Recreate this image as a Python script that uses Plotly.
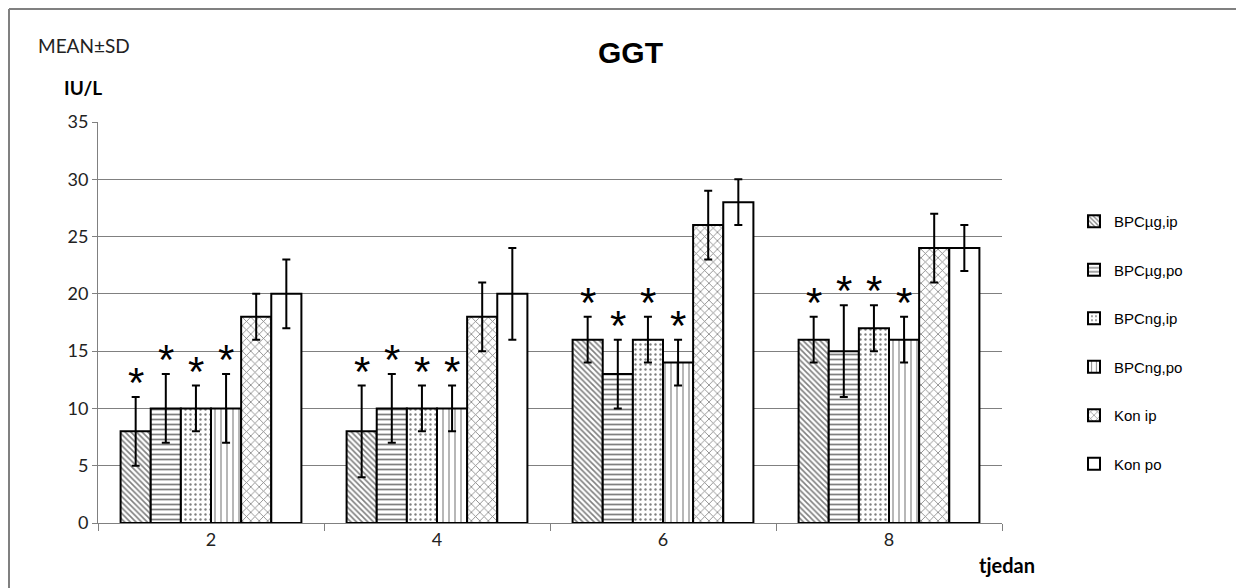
import plotly.graph_objects as go

weeks = [2, 4, 6, 8]
series_names = ["BPCµg,ip", "BPCµg,po", "BPCng,ip", "BPCng,po", "Kon ip", "Kon po"]
means = [
    [8, 8, 16, 16],
    [10, 10, 13, 15],
    [10, 10, 16, 17],
    [10, 10, 14, 16],
    [18, 18, 26, 24],
    [20, 20, 28, 24],
]
sds = [
    [3, 4, 2, 2],
    [3, 3, 3, 4],
    [2, 2, 2, 2],
    [3, 2, 2, 2],
    [2, 3, 3, 3],
    [3, 4, 2, 2],
]
significant = [True, True, True, True, False, False]
y_ticks = [0, 5, 10, 15, 20, 25, 30, 35]

patterns = [
    dict(shape="\\", size=4, solidity=0.4, fgcolor="black", bgcolor="white"),
    dict(shape="-", size=5, solidity=0.35, fgcolor="black", bgcolor="white"),
    dict(shape=".", size=5, solidity=0.18, fgcolor="black", bgcolor="white"),
    dict(shape="|", size=6, solidity=0.22, fgcolor="#222222", bgcolor="white"),
    dict(shape="x", size=6, solidity=0.25, fgcolor="black", bgcolor="white"),
    dict(shape="", fgcolor="black", bgcolor="white"),
]

# page offset (browser body margin) and target pixel geometry
OFF = 8
W, H = 1244 - OFF, 588 - OFF
L, R, T, B = 98 - OFF, 1002 - OFF, 122 - OFF, 523 - OFF


def px(xp):
    return (xp - OFF - L) / (R - L)


def py(yp):
    return (B - (yp - OFF)) / (B - T)


fig = go.Figure()
for i, name in enumerate(series_names):
    fig.add_trace(go.Bar(
        x=weeks, y=means[i], name=name,
        legendgroup=name,
        marker=dict(color="white", line=dict(color="black", width=2), pattern=patterns[i]),
        error_y=dict(type="data", array=sds[i], visible=True, color="black", thickness=2, width=4),
    ))

bargap = 0.2
n = len(series_names)
bar_w = 2 * (1 - bargap) / n
annotations = []
for i in range(n):
    if not significant[i]:
        continue
    for j, wk in enumerate(weeks):
        annotations.append(dict(
            x=wk + (i - (n - 1) / 2) * bar_w, y=means[i][j] + sds[i][j] + 2.4,
            xref="x", yref="y", text="*", showarrow=False,
            font=dict(size=42, color="black", family="Liberation Sans"),
            yshift=-13,
        ))

annotations += [
    dict(x=px(36), y=py(45), xref="paper", yref="paper", xanchor="left", yanchor="middle",
         text="MEAN±SD", showarrow=False, font=dict(size=19, color="#222", family="Lato")),
    dict(x=px(62), y=py(88), xref="paper", yref="paper", xanchor="left", yanchor="middle",
         text="<b>IU/L</b>", showarrow=False, font=dict(size=19, color="black", family="Lato")),
    dict(x=px(977), y=py(565), xref="paper", yref="paper", xanchor="left", yanchor="middle",
         text="<b>tjedan</b>", showarrow=False, font=dict(size=20, color="black", family="Lato")),
    dict(x=px(630), y=py(53), xref="paper", yref="paper", xanchor="center", yanchor="middle",
         text="<b>GGT</b>", showarrow=False, font=dict(size=30, color="black", family="Liberation Sans")),
]

shapes = [
    dict(type="line", xref="paper", yref="paper", x0=px(9), x1=px(9), y0=py(9), y1=py(600),
         line=dict(color="#808080", width=2)),
    dict(type="line", xref="paper", yref="paper", x0=px(9), x1=px(1260), y0=py(9), y1=py(9),
         line=dict(color="#808080", width=2)),
]

fig.update_layout(
    width=W, height=H,
    margin=dict(l=L, r=W - R, t=T, b=H - B),
    paper_bgcolor="white", plot_bgcolor="white",
    barmode="group", bargap=bargap, bargroupgap=0,
    showlegend=True,
    legend=dict(x=px(1074), y=py(205), xanchor="left", yanchor="top",
                font=dict(size=15, color="black", family="Liberation Sans"),
                tracegroupgap=26, itemwidth=30, bgcolor="rgba(0,0,0,0)"),
    annotations=annotations,
    shapes=shapes,
    font=dict(family="Lato", color="black"),
)
fig.update_xaxes(
    range=[1, 9], tickvals=weeks, ticktext=[str(w) for w in weeks], ticks="",
    showgrid=False, showline=True, linecolor="#808080", linewidth=1,
    tickfont=dict(size=18, color="#222"),
    minor=dict(tick0=1, dtick=2, ticks="outside", ticklen=7, tickcolor="#808080", showgrid=False),
    zeroline=False,
)
fig.update_yaxes(
    range=[0, 35], tickvals=y_ticks, ticks="outside", ticklen=5, tickcolor="#808080",
    showgrid=True, gridcolor="#808080", gridwidth=1,
    showline=True, linecolor="#808080", linewidth=1,
    tickfont=dict(size=18, color="#222"), zeroline=False,
)

fig.write_html("out.html")
